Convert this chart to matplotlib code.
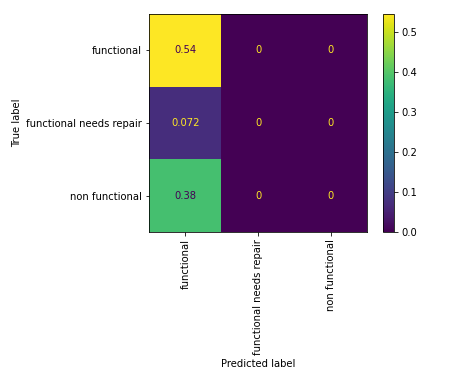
import numpy as np
import matplotlib
matplotlib.use("Agg")
import matplotlib.pyplot as plt

labels = ["functional", "functional needs repair", "non functional"]
pred_functional = [0.544, 0.072, 0.384]
pred_repair = [0.0, 0.0, 0.0]
pred_non = [0.0, 0.0, 0.0]

cm = np.column_stack([pred_functional, pred_repair, pred_non])

fig = plt.figure(figsize=(454 / 72, 390 / 72), dpi=72)
ax = fig.add_axes([149 / 454, 1 - 232 / 390, 218 / 454, 218 / 390])
cax = fig.add_axes([383 / 454, 1 - 232 / 390, 11 / 454, 218 / 390])

cmap = plt.get_cmap("viridis")
im = ax.imshow(cm, cmap=cmap, interpolation="nearest")
fig.colorbar(im, cax=cax)

# text colour like sklearn's ConfusionMatrixDisplay
thresh = (cm.max() + cm.min()) / 2.0
for i in range(cm.shape[0]):
    for j in range(cm.shape[1]):
        color = cmap(0) if cm[i, j] > thresh else cmap(256)
        ax.text(j, i, format(cm[i, j], ".2g"), ha="center", va="center", color=color)

ax.set_xticks(np.arange(len(labels)))
ax.set_yticks(np.arange(len(labels)))
ax.set_xticklabels(labels, rotation=90)
ax.set_yticklabels(labels)
ax.set_xlabel("Predicted label")
ax.set_ylabel("True label")
ax.set_ylim(len(labels) - 0.5, -0.5)

fig.savefig("out.png", dpi=72)
